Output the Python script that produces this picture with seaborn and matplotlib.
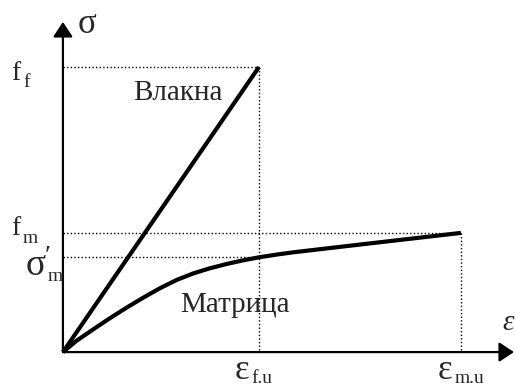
import matplotlib
matplotlib.use("Agg")
import matplotlib.pyplot as plt
import seaborn as sns
import pandas as pd

# Stress-strain diagram of a fibre composite: fibres vs. matrix
eps_fu = 1.0          # ultimate strain of fibres
eps_mu = 2.03         # ultimate strain of matrix
f_f = 1.0             # fibre strength
f_m = 0.418           # matrix strength
sigma_m_prime = 0.333 # matrix stress at the fibre failure strain

fiber_eps = [0.0, eps_fu]
fiber_sig = [0.0, f_f]

matrix_eps = [0.0, 0.070, 0.155, 0.240, 0.325, 0.410, 0.495, 0.580, 0.665,
              0.750, 0.835, 0.920, 1.005, 1.090, 1.175, 1.45, 1.74, 2.03]
matrix_sig = [0.0, 0.040, 0.080, 0.119, 0.156, 0.191, 0.224, 0.253, 0.276,
              0.294, 0.309, 0.322, 0.333, 0.342, 0.350, 0.372, 0.395, 0.418]

sns.set_theme(style="white")
plt.rcParams["font.family"] = ["Liberation Serif", "DejaVu Serif"]

W, H = 515, 388
fig = plt.figure(figsize=(W / 100, H / 100), dpi=100)
ax = fig.add_axes([0, 0, 1, 1])
X0, X1 = -0.321, 2.306
Y0, Y1 = -0.126, 1.235
ax.set_xlim(X0, X1)
ax.set_ylim(Y0, Y1)
ax.axis("off")

fiber = pd.DataFrame({"eps": fiber_eps, "sig": fiber_sig})
matrix = pd.DataFrame({"eps": matrix_eps, "sig": matrix_sig})
sns.lineplot(data=fiber, x="eps", y="sig", color="black", lw=3.0,
             sort=False, ax=ax, solid_capstyle="butt")
sns.lineplot(data=matrix, x="eps", y="sig", color="black", lw=3.0,
             sort=False, ax=ax, solid_capstyle="butt", solid_joinstyle="round")

# dotted guide lines
dot = dict(color="black", lw=1.0, ls=(0, (1, 1.6)))
ax.plot([0, eps_fu], [f_f, f_f], **dot)
ax.plot([eps_fu, eps_fu], [f_f, 0], **dot)
ax.plot([0, eps_mu], [f_m, f_m], **dot)
ax.plot([eps_mu, eps_mu], [f_m, 0], **dot)
ax.plot([0, eps_fu], [sigma_m_prime, sigma_m_prime], **dot)

# axes with filled arrow heads
arrow = dict(arrowstyle="-|>,head_length=0.5,head_width=0.33", lw=1.6,
             color="black", mutation_scale=18, shrinkA=0, shrinkB=0)
ax.annotate("", xy=(2.301, 0), xytext=(0, 0), arrowprops=arrow)
ax.annotate("", xy=(0, 1.158), xytext=(0, 0), arrowprops=arrow)


def at(px, py):
    """Pixel position (from the top-left corner) to data coordinates."""
    return X0 + px / W * (X1 - X0), Y1 - py / H * (Y1 - Y0)


def put(px, py, s, fs, **kw):
    x, y = at(px, py)
    kw.setdefault("va", "baseline")
    ax.text(x, y, s, fontsize=fs, ha="left", **kw)


main, sub = 20, 14

# axis titles
put(78, 33, "σ", 25)
put(502, 330, "ε", 21, style="italic")

# stress levels
put(11, 80, "f", main)
put(23, 87, "f", sub)
put(11, 235, "f", main)
put(23, 243, "m", sub)
put(26, 275, "σ", 27)
put(45, 245, "′", 20, va="top")
put(48, 281, "m", sub)

# strain levels
put(235, 379, "ε", 25)
put(251, 383, "f.u", sub)
put(438, 379, "ε", 25)
put(455, 383, "m.u", sub)

# curve names
put(133, 100, "Влакна", 21)
put(180, 312, "Матрица", 21)

fig.savefig("out.png", dpi=100)
